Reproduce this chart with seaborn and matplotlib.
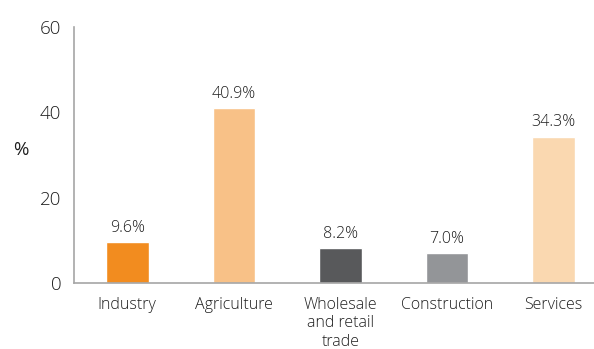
import matplotlib
matplotlib.use("Agg")
import matplotlib.pyplot as plt
import seaborn as sns
import pandas as pd
import numpy as np

categories = ["Industry", "Agriculture", "Wholesale\nand retail\ntrade", "Construction", "Services"]
shares = [9.6, 40.9, 8.2, 7.0, 34.3]
colors = ["#F28C1F", "#F8C187", "#58595B", "#939598", "#FAD8B0"]
yticks = [0, 20, 40, 60]

sns.set_theme(style="white")
plt.rcParams["font.family"] = ["Open Sans", "DejaVu Sans"]
plt.rcParams["font.weight"] = "light"

text_color = "#1e1e1e"
axis_color = "#a6a6a6"

df = pd.DataFrame({"sector": categories, "share": shares})

fig = plt.figure(figsize=(5.94, 3.49), dpi=100)
ax = fig.add_axes([74 / 594, 66 / 349, 533 / 594, 256 / 349])

sns.barplot(data=df, x="sector", y="share", hue="sector", palette=colors,
            width=0.4, legend=False, ax=ax, saturation=1)

for i, v in enumerate(shares):
    ax.text(i, v + 1.5, f"{v:.1f}%", ha="center", va="bottom",
            fontsize=11.5, color=text_color)

ax.set_ylim(0, 60)
ax.set_xlim(-0.5, len(categories) - 0.5)
ax.set_yticks(yticks)
ax.set_yticklabels([str(t) for t in yticks], fontsize=13.5, color=text_color)
ax.set_xticks(range(len(categories)))
ax.set_xticklabels(categories, fontsize=11.5, color=text_color, linespacing=1.2)
ax.set_xticks(np.arange(-0.5, len(categories), 1.0), minor=True)

ax.tick_params(axis="x", which="major", length=0, pad=10)
ax.tick_params(axis="x", which="minor", length=5, width=1.2, color=axis_color, direction="out")
ax.tick_params(axis="y", length=6, width=1.2, color=axis_color, direction="out", pad=3)

ax.set_xlabel("")
ax.set_ylabel("%", rotation=0, fontsize=13.5, color=text_color, va="center")
ax.yaxis.set_label_coords(-0.1, 0.52)

for s in ["top", "right"]:
    ax.spines[s].set_visible(False)
for s in ["left", "bottom"]:
    ax.spines[s].set_color(axis_color)
    ax.spines[s].set_linewidth(1.2)

fig.savefig("out.png", dpi=100)
